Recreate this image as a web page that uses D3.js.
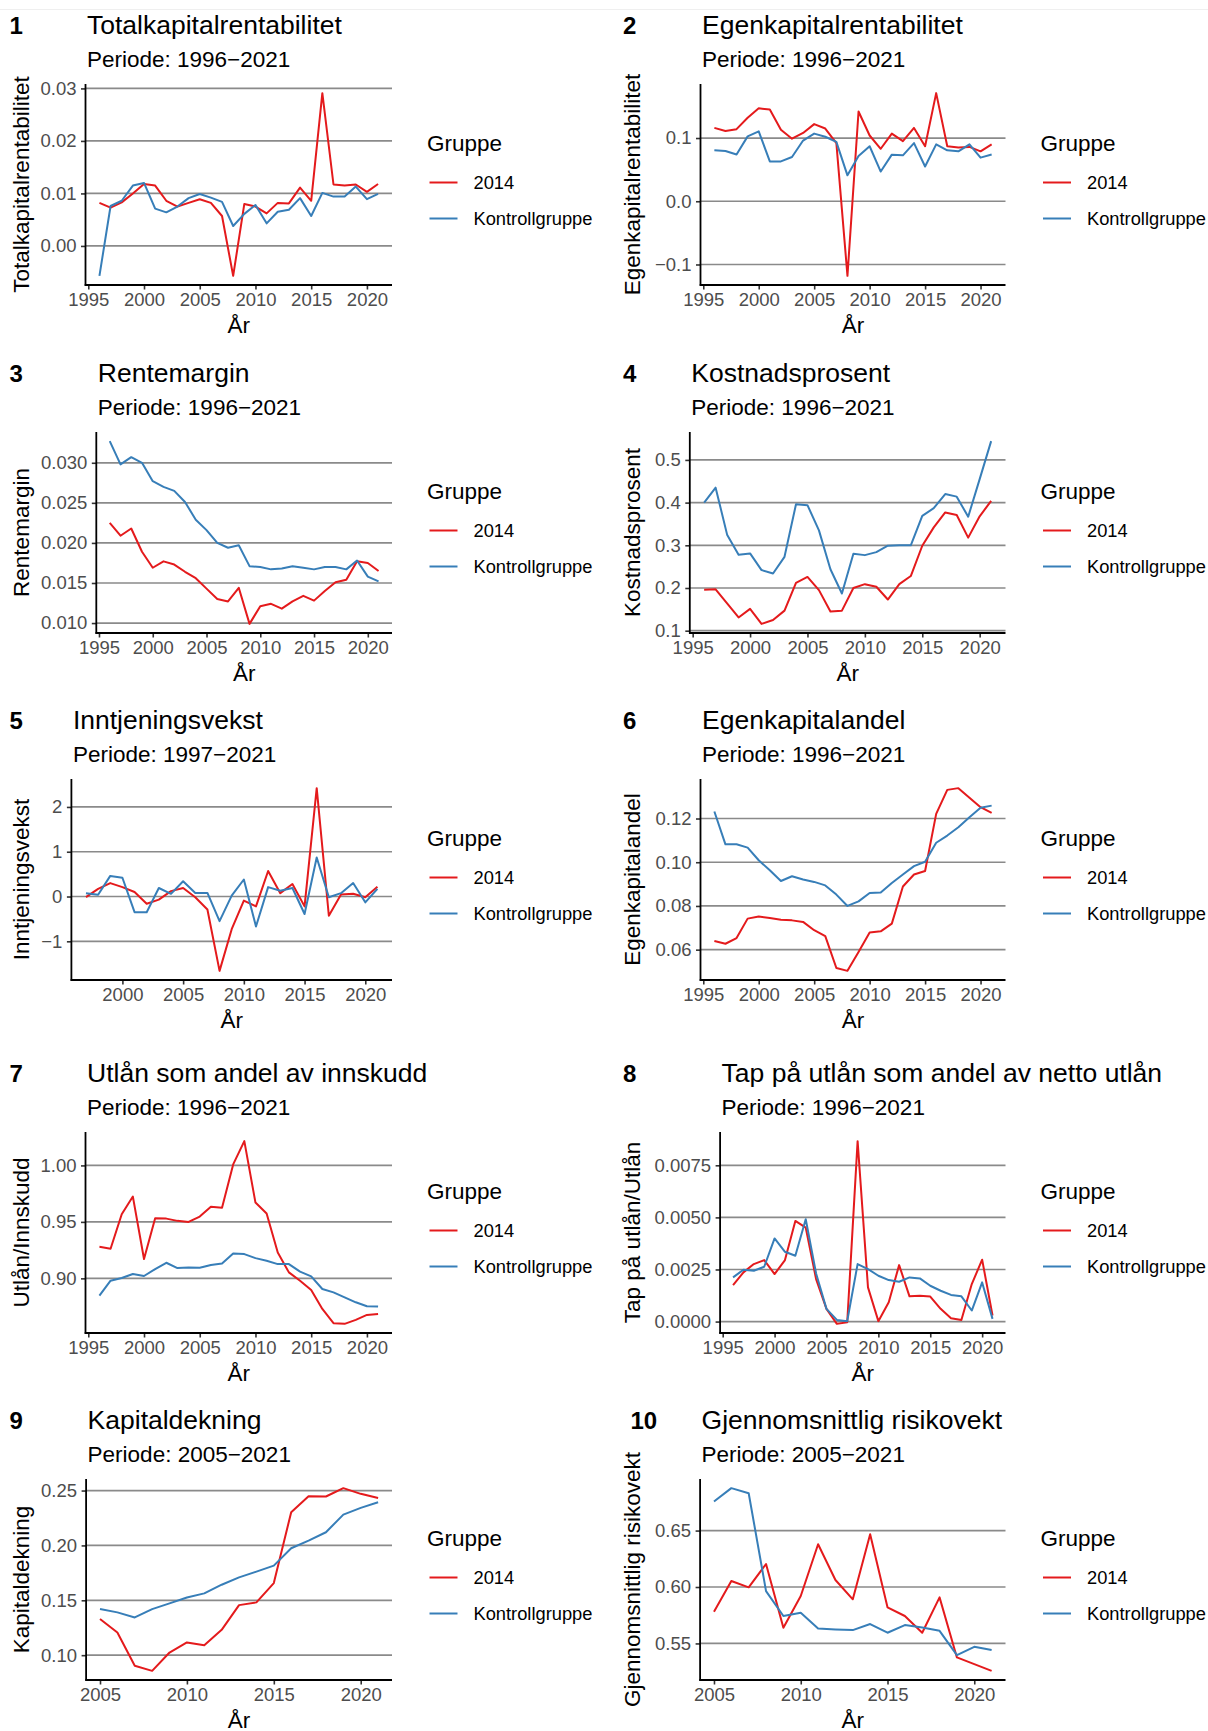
<!DOCTYPE html>
<html>
<head>
<meta charset="utf-8">
<script src="https://cdn.jsdelivr.net/npm/d3@7"></script>
<style>
  body { margin: 0; background: #fff; }
  svg { display: block; }
  text { font-family: "Liberation Sans", Arial, sans-serif; }
</style>
</head>
<body>
<svg id="chart" width="1208" height="1731"></svg>
<script>
// ---- groups ----
const groupNames = ["2014", "Kontrollgruppe"];
const groupColors = ["#E41A1C", "#377EB8"];

// ---- years ----
const years9621 = [1996,1997,1998,1999,2000,2001,2002,2003,2004,2005,2006,2007,2008,2009,2010,2011,2012,2013,2014,2015,2016,2017,2018,2019,2020,2021];
const years9721 = [1997,1998,1999,2000,2001,2002,2003,2004,2005,2006,2007,2008,2009,2010,2011,2012,2013,2014,2015,2016,2017,2018,2019,2020,2021];
const years0521 = [2005,2006,2007,2008,2009,2010,2011,2012,2013,2014,2015,2016,2017,2018,2019,2020,2021];

// ---- series (first = 2014, second = Kontrollgruppe) ----
const totalkapRed  = [0.0082,0.0073,0.0083,0.0100,0.0118,0.0115,0.0086,0.0075,0.0082,0.0089,0.0082,0.0057,-0.0057,0.0080,0.0075,0.0062,0.0082,0.0081,0.0111,0.0086,0.0291,0.0117,0.0115,0.0117,0.0103,0.0118];
const totalkapBlue = [-0.0057,0.0076,0.0086,0.0115,0.0120,0.0071,0.0064,0.0075,0.0091,0.0099,0.0092,0.0084,0.0038,0.0061,0.0078,0.0043,0.0065,0.0069,0.0091,0.0057,0.0101,0.0094,0.0094,0.0113,0.0089,0.0099];

const ekRentRed  = [0.116,0.111,0.114,0.132,0.147,0.145,0.113,0.099,0.108,0.122,0.115,0.092,-0.118,0.142,0.104,0.083,0.107,0.095,0.116,0.087,0.171,0.087,0.085,0.086,0.079,0.090];
const ekRentBlue = [0.0805,0.0795,0.074,0.1026,0.1105,0.063,0.063,0.070,0.096,0.107,0.102,0.094,0.041,0.0716,0.087,0.047,0.0737,0.0726,0.092,0.055,0.090,0.0805,0.079,0.090,0.069,0.074];

const renteRed  = [0.0225,0.0209,0.0218,0.0189,0.0169,0.0177,0.0173,0.0164,0.0156,0.0143,0.0130,0.0127,0.0144,0.0099,0.0121,0.0124,0.0118,0.0127,0.0134,0.0128,0.0140,0.0151,0.0154,0.0177,0.0175,0.0165];
const renteBlue = [0.0327,0.0298,0.0307,0.0300,0.0277,0.0270,0.0265,0.0251,0.0229,0.0216,0.0200,0.0194,0.0197,0.0171,0.0170,0.0167,0.0168,0.0171,0.0169,0.0167,0.0170,0.0170,0.0167,0.0178,0.0158,0.0152];

const kostRed  = [0.196,0.197,0.164,0.131,0.151,0.116,0.125,0.147,0.212,0.226,0.195,0.145,0.147,0.200,0.209,0.203,0.173,0.209,0.228,0.299,0.342,0.377,0.371,0.318,0.368,0.404];
const kostBlue = [0.400,0.435,0.325,0.278,0.281,0.242,0.234,0.273,0.396,0.394,0.335,0.244,0.187,0.280,0.277,0.284,0.299,0.300,0.300,0.369,0.387,0.420,0.414,0.367,0.455,0.544];

const inntRed  = [-0.015,0.17,0.30,0.21,0.10,-0.16,-0.07,0.12,0.19,-0.015,-0.29,-1.66,-0.73,-0.09,-0.22,0.57,0.075,0.28,-0.22,2.42,-0.43,0.045,0.06,-0.015,0.22];
const inntBlue = [0.075,0.04,0.46,0.42,-0.35,-0.35,0.19,0.06,0.34,0.08,0.08,-0.55,0.02,0.38,-0.67,0.21,0.13,0.19,-0.39,0.87,-0.015,0.075,0.30,-0.13,0.17];

const ekAndelRed  = [0.0640,0.0627,0.0653,0.0742,0.0752,0.0745,0.0737,0.0734,0.0727,0.0689,0.0662,0.0516,0.0503,0.0589,0.0678,0.0684,0.0719,0.0889,0.0944,0.0960,0.1221,0.1331,0.1339,0.1295,0.1252,0.1226];
const ekAndelBlue = [0.1232,0.1082,0.1082,0.1067,0.1009,0.0963,0.0914,0.0936,0.0921,0.0910,0.0894,0.0852,0.0800,0.0821,0.0859,0.0861,0.0905,0.0944,0.0982,0.1002,0.1089,0.1122,0.1160,0.1206,0.1249,0.1259];

const utlanRed  = [0.9279,0.9262,0.9568,0.9724,0.9171,0.9532,0.9529,0.9509,0.9500,0.9547,0.9635,0.9626,1.0009,1.0215,0.9671,0.9574,0.9229,0.9053,0.8979,0.8897,0.8729,0.8603,0.8597,0.8632,0.8676,0.8685];
const utlanBlue = [0.8847,0.8979,0.9003,0.9038,0.9021,0.9082,0.9138,0.9091,0.9097,0.9094,0.9118,0.9132,0.9221,0.9215,0.9179,0.9156,0.9126,0.9126,0.9059,0.9018,0.8906,0.8876,0.8832,0.8788,0.8753,0.8750];

const tapRed  = [0.00175,0.00236,0.00276,0.00295,0.00228,0.00295,0.00483,0.00451,0.00204,0.00061,-0.00011,-0.00003,0.00866,0.00164,0.00002,0.00093,0.00271,0.00121,0.00124,0.00120,0.00061,0.00016,0.00008,0.00180,0.00297,0.00029];
const tapBlue = [0.00212,0.00249,0.00244,0.00263,0.00399,0.00335,0.00316,0.00491,0.00231,0.00061,0.00008,0.00002,0.00276,0.00252,0.00220,0.00199,0.00191,0.00212,0.00207,0.00172,0.00148,0.00128,0.00121,0.00053,0.00188,0.00013];

const kapRed  = [0.1329,0.1207,0.0903,0.0857,0.1024,0.1116,0.1091,0.1231,0.1456,0.1481,0.1657,0.2303,0.2449,0.2446,0.2522,0.2470,0.2433];
const kapBlue = [0.1420,0.1390,0.1344,0.1420,0.1472,0.1526,0.1563,0.1642,0.1709,0.1761,0.1816,0.1974,0.2044,0.2120,0.2281,0.2342,0.2394];

const risikoRed  = [0.5781,0.6053,0.5997,0.6204,0.5639,0.5920,0.6379,0.6062,0.5891,0.6467,0.5820,0.5743,0.5595,0.5908,0.5376,0.5317,0.5257];
const risikoBlue = [0.6757,0.6876,0.6831,0.5964,0.5743,0.5772,0.5633,0.5624,0.5618,0.5672,0.5595,0.5663,0.5642,0.5612,0.5396,0.5470,0.5441];

// ---- tick values ----
const xTicks95 = [1995,2000,2005,2010,2015,2020];
const xTicks00 = [2000,2005,2010,2015,2020];
const xTicks05 = [2005,2010,2015,2020];
const yTicksTotalkap = [0, 0.01, 0.02, 0.03];
const yTicksEkRent = [-0.1, 0, 0.1];
const yTicksRente = [0.010, 0.015, 0.020, 0.025, 0.030];
const yTicksKost = [0.1, 0.2, 0.3, 0.4, 0.5];
const yTicksInnt = [-1, 0, 1, 2];
const yTicksEkAndel = [0.06, 0.08, 0.10, 0.12];
const yTicksUtlan = [0.90, 0.95, 1.00];
const yTicksTap = [0, 0.0025, 0.0050, 0.0075];
const yTicksKap = [0.10, 0.15, 0.20, 0.25];
const yTicksRisiko = [0.55, 0.60, 0.65];

// ---- panel definitions ----
const panels = [
  {tag:"1", title:"Totalkapitalrentabilitet", period:"Periode: 1996\u22122021", yLabel:"Totalkapitalrentabilitet",
   years:years9621, series:[totalkapRed,totalkapBlue], xTicks:xTicks95, yTicks:yTicksTotalkap, fmt:".2f", col:0, row:0, left:85.5, tagX:9.5},
  {tag:"2", title:"Egenkapitalrentabilitet", period:"Periode: 1996\u22122021", yLabel:"Egenkapitalrentabilitet",
   years:years9621, series:[ekRentRed,ekRentBlue], xTicks:xTicks95, yTicks:yTicksEkRent, fmt:".1f", col:1, row:0, left:700.5, tagX:623},
  {tag:"3", title:"Rentemargin", period:"Periode: 1996\u22122021", yLabel:"Rentemargin",
   years:years9621, series:[renteRed,renteBlue], xTicks:xTicks95, yTicks:yTicksRente, fmt:".3f", col:0, row:1, left:96.3, tagX:9.5},
  {tag:"4", title:"Kostnadsprosent", period:"Periode: 1996\u22122021", yLabel:"Kostnadsprosent",
   years:years9621, series:[kostRed,kostBlue], xTicks:xTicks95, yTicks:yTicksKost, fmt:".1f", col:1, row:1, left:689.8, tagX:623},
  {tag:"5", title:"Inntjeningsvekst", period:"Periode: 1997\u22122021", yLabel:"Inntjeningsvekst",
   years:years9721, series:[inntRed,inntBlue], xTicks:xTicks00, yTicks:yTicksInnt, fmt:"d", col:0, row:2, left:71.4, tagX:9.5},
  {tag:"6", title:"Egenkapitalandel", period:"Periode: 1996\u22122021", yLabel:"Egenkapitalandel",
   years:years9621, series:[ekAndelRed,ekAndelBlue], xTicks:xTicks95, yTicks:yTicksEkAndel, fmt:".2f", col:1, row:2, left:700.5, tagX:623},
  {tag:"7", title:"Utl\u00e5n som andel av innskudd", period:"Periode: 1996\u22122021", yLabel:"Utl\u00e5n/Innskudd",
   years:years9621, series:[utlanRed,utlanBlue], xTicks:xTicks95, yTicks:yTicksUtlan, fmt:".2f", col:0, row:3, left:85.5, tagX:9.5},
  {tag:"8", title:"Tap p\u00e5 utl\u00e5n som andel av netto utl\u00e5n", period:"Periode: 1996\u22122021", yLabel:"Tap p\u00e5 utl\u00e5n/Utl\u00e5n",
   years:years9621, series:[tapRed,tapBlue], xTicks:xTicks95, yTicks:yTicksTap, fmt:".4f", col:1, row:3, left:720.1, tagX:623},
  {tag:"9", title:"Kapitaldekning", period:"Periode: 2005\u22122021", yLabel:"Kapitaldekning",
   years:years0521, series:[kapRed,kapBlue], xTicks:xTicks05, yTicks:yTicksKap, fmt:".2f", col:0, row:4, left:86.1, tagX:9.5},
  {tag:"10", title:"Gjennomsnittlig risikovekt", period:"Periode: 2005\u22122021", yLabel:"Gjennomsnittlig risikovekt",
   years:years0521, series:[risikoRed,risikoBlue], xTicks:xTicks05, yTicks:yTicksRisiko, fmt:".2f", col:1, row:4, left:700.1, tagX:630.5}
];

// ---- layout ----
const rowTop = [0, 348, 695, 1048, 1395];
const colRight = [392, 1005.5];
const colYTitleX = [28.5, 640];
const panelTop = 84, panelBottom = 285;

const svg = d3.select("#chart");
svg.append("rect").attr("width", 1208).attr("height", 1731).attr("fill", "#fff");
svg.append("line").attr("x1", 0).attr("x2", 1208).attr("y1", 9.5).attr("y2", 9.5)
  .attr("stroke", "#efefef").attr("stroke-width", 1);

function expand(ext, mult) {
  const pad = (ext[1] - ext[0]) * mult;
  return [ext[0] - pad, ext[1] + pad];
}

panels.forEach(p => {
  const oy = rowTop[p.row];
  const right = colRight[p.col];
  const top = oy + panelTop, bottom = oy + panelBottom;
  const g = svg.append("g");

  const x = d3.scaleLinear().domain(expand(d3.extent(p.years), 0.05)).range([p.left, right]);
  const allVals = p.series[0].concat(p.series[1]);
  const y = d3.scaleLinear().domain(expand(d3.extent(allVals), 0.05)).range([bottom, top]);
  const fmt = d3.format(p.fmt);

  // tag, title, subtitle
  g.append("text").attr("x", p.tagX).attr("y", oy + 33.5)
    .attr("font-size", 24).attr("font-weight", "bold").attr("fill", "#000").text(p.tag);
  g.append("text").attr("x", p.left + 1.5).attr("y", oy + 33.5)
    .attr("font-size", 26.5).attr("fill", "#000").text(p.title);
  g.append("text").attr("x", p.left + 1.5).attr("y", oy + 66.5)
    .attr("font-size", 22.5).attr("fill", "#000").text(p.period);

  // horizontal grid
  g.append("g").selectAll("line").data(p.yTicks).join("line")
    .attr("x1", p.left).attr("x2", right)
    .attr("y1", d => y(d)).attr("y2", d => y(d))
    .attr("stroke", "#8a8a8a").attr("stroke-width", 1.7);

  // series lines
  const line = d3.line().x(d => x(d[0])).y(d => y(d[1]));
  p.series.forEach((vals, i) => {
    g.append("path")
      .datum(p.years.map((yr, k) => [yr, vals[k]]))
      .attr("d", line)
      .attr("fill", "none")
      .attr("stroke", groupColors[i])
      .attr("stroke-width", 2)
      .attr("stroke-linejoin", "round")
      .attr("stroke-linecap", "butt");
  });

  // y axis
  const yAxis = d3.axisLeft(y).tickValues(p.yTicks).tickFormat(fmt).tickSizeInner(4.5).tickSizeOuter(0).tickPadding(4.5);
  const ya = g.append("g").attr("transform", `translate(${p.left},0)`).call(yAxis);
  ya.select(".domain").remove();
  ya.selectAll(".tick line").attr("stroke", "#333").attr("stroke-width", 1.6);
  ya.selectAll(".tick text").attr("font-size", 18.5).attr("fill", "#4d4d4d")
    .attr("font-family", "Liberation Sans, Arial, sans-serif");

  // x axis
  const xAxis = d3.axisBottom(x).tickValues(p.xTicks).tickFormat(d3.format("d")).tickSizeInner(4.5).tickSizeOuter(0).tickPadding(3.5);
  const xa = g.append("g").attr("transform", `translate(0,${bottom})`).call(xAxis);
  xa.select(".domain").remove();
  xa.selectAll(".tick line").attr("stroke", "#333").attr("stroke-width", 1.6);
  xa.selectAll(".tick text").attr("font-size", 18.5).attr("fill", "#4d4d4d")
    .attr("font-family", "Liberation Sans, Arial, sans-serif");

  // axis lines
  g.append("line").attr("x1", p.left).attr("x2", p.left).attr("y1", top).attr("y2", bottom + 0.8)
    .attr("stroke", "#000").attr("stroke-width", 1.8);
  g.append("line").attr("x1", p.left - 0.8).attr("x2", right).attr("y1", bottom).attr("y2", bottom)
    .attr("stroke", "#000").attr("stroke-width", 1.8);

  // axis titles
  g.append("text").attr("x", (p.left + right) / 2).attr("y", bottom + 48)
    .attr("text-anchor", "middle").attr("font-size", 22.5).attr("fill", "#000").text("\u00c5r");
  g.append("text")
    .attr("transform", `translate(${colYTitleX[p.col]},${(top + bottom) / 2}) rotate(-90)`)
    .attr("text-anchor", "middle").attr("font-size", 22.5).attr("fill", "#000").text(p.yLabel);

  // legend
  const lx = right + 35;
  g.append("text").attr("x", lx).attr("y", oy + 151)
    .attr("font-size", 22.5).attr("fill", "#000").text("Gruppe");
  groupNames.forEach((name, i) => {
    const ky = oy + 182.5 + i * 36;
    g.append("line").attr("x1", lx + 2.5).attr("x2", lx + 30.5).attr("y1", ky).attr("y2", ky)
      .attr("stroke", groupColors[i]).attr("stroke-width", 2);
    g.append("text").attr("x", lx + 46.5).attr("y", ky).attr("dy", "0.36em")
      .attr("font-size", 18.3).attr("fill", "#000").text(name);
  });
});
</script>
</body>
</html>
